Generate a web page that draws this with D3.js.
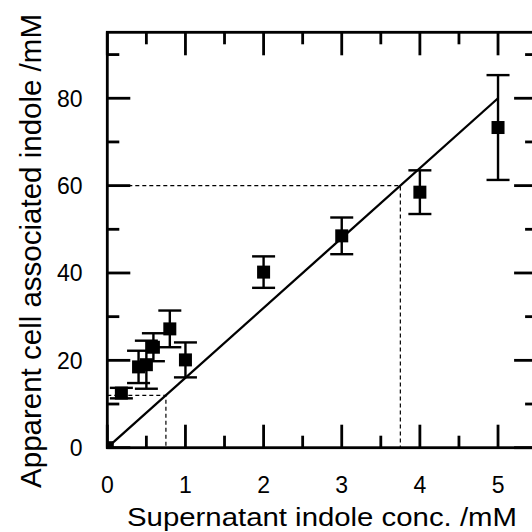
<!DOCTYPE html>
<html><head><meta charset="utf-8">
<script src="https://cdn.jsdelivr.net/npm/d3@7"></script>
<style>body{margin:0;background:#fff}svg{display:block}</style>
</head><body>
<svg id="c" width="532" height="532"></svg>
<script>
// Data
const xs   = [0, 0.18, 0.40, 0.50, 0.59, 0.80, 1.0, 2.0, 3.0, 4.0, 5.0];
const ys   = [0, 12.5, 18.5, 19.0, 23.0, 27.2, 20.1, 40.2, 48.5, 58.5, 73.3];
const errs = [0, 1.2, 3.7, 5.5, 3.2, 4.2, 4.0, 3.6, 4.2, 5.0, 12.0];
const fitLine = [[0, 0], [5, 80]];
const guide1 = [[0, 12], [0.75, 12], [0.75, 0]];
const guide2 = [[0, 60], [3.75, 60], [3.75, 0]];
const xTicks = [0, 1, 2, 3, 4, 5];
const xMinor = [0.5, 1.5, 2.5, 3.5, 4.5];
const yTicks = [0, 20, 40, 60, 80];
const yMinor = [10, 30, 50, 70, 90];
const xTitle = "Supernatant indole conc. /mM";
const yTitle = "Apparent cell associated indole /mM";

(function () {
const svg = d3.select("#c");
const L = 107.3, T = 32.3;
const x = d3.scaleLinear().domain([0, 5.5]).range([L, L + 429.8]);
const y = d3.scaleLinear().domain([0, 95.1]).range([447.7, T]);
const B = y(0), R = x(5.5);
const font = "'Liberation Sans', Arial, sans-serif";
const sw = 2.8;

svg.append("defs").append("clipPath").attr("id", "clip")
  .append("rect").attr("x", L).attr("y", T).attr("width", R - L).attr("height", B - T);

const g = svg.append("g");
const ln = d3.line().x(d => x(d[0])).y(d => y(d[1]));
[guide1, guide2].forEach(gd => g.append("path").attr("d", ln(gd)).attr("fill", "none")
  .attr("stroke", "#000").attr("stroke-width", 1.2).attr("stroke-dasharray", "4,3"));
g.append("path").attr("d", ln(fitLine)).attr("fill", "none").attr("stroke", "#000").attr("stroke-width", 2.3);

const pts = g.append("g").attr("clip-path", "url(#clip)");
xs.forEach((xv, i) => {
  const cx = x(xv), e = errs[i];
  if (e > 0) {
    pts.append("rect").attr("x", cx - 1.2).attr("width", 2.4).attr("y", y(ys[i] + e)).attr("height", y(ys[i] - e) - y(ys[i] + e)).attr("fill", "#000");
    [ys[i] - e, ys[i] + e].forEach(v => pts.append("rect").attr("x", cx - 11.5).attr("width", 23)
      .attr("y", y(v) - 1.2).attr("height", 2.4).attr("fill", "#000"));
  }
  pts.append("rect").attr("x", cx - 6.5).attr("y", y(ys[i]) - 6.5).attr("width", 13).attr("height", 13).attr("fill", "#000");
});

// frame
svg.append("rect").attr("x", L).attr("y", T).attr("width", R - L).attr("height", B - T)
  .attr("fill", "none").attr("stroke", "#000").attr("stroke-width", sw);

// ticks (inward on all four sides)
const tg = svg.append("g").attr("fill", "#000");
function vt(vals, len) {
  vals.forEach(v => {
    tg.append("rect").attr("x", x(v) - sw / 2).attr("width", sw).attr("y", B - len).attr("height", len);
    tg.append("rect").attr("x", x(v) - sw / 2).attr("width", sw).attr("y", T).attr("height", len);
  });
}
function ht(vals, len) {
  vals.forEach(v => {
    tg.append("rect").attr("y", y(v) - sw / 2).attr("height", sw).attr("x", L).attr("width", len);
    tg.append("rect").attr("y", y(v) - sw / 2).attr("height", sw).attr("x", R - len).attr("width", len);
  });
}
vt(xTicks, 23); vt(xMinor, 12); ht(yTicks, 23); ht(yMinor, 12);

// tick labels
svg.append("g").selectAll("text").data(xTicks).join("text")
  .attr("x", d => x(d)).attr("y", 492.5).attr("text-anchor", "middle")
  .attr("font-family", font).attr("font-size", 23).attr("fill", "#000").text(d => d);
svg.append("g").selectAll("text").data(yTicks).join("text")
  .attr("x", 82.5).attr("y", d => y(d)).attr("dy", "0.36em").attr("text-anchor", "end")
  .attr("font-family", font).attr("font-size", 23).attr("fill", "#000").text(d => d);

// titles
svg.append("text").attr("x", 322).attr("y", 526).attr("text-anchor", "middle")
  .attr("font-family", font).attr("font-size", 25).attr("textLength", 390).attr("lengthAdjust", "spacingAndGlyphs")
  .attr("fill", "#000").text(xTitle);
svg.append("text").attr("transform", "translate(40.5,251) rotate(-90)").attr("text-anchor", "middle")
  .attr("font-family", font).attr("font-size", 29.5).attr("fill", "#000").text(yTitle);
})();
</script>
</body></html>
